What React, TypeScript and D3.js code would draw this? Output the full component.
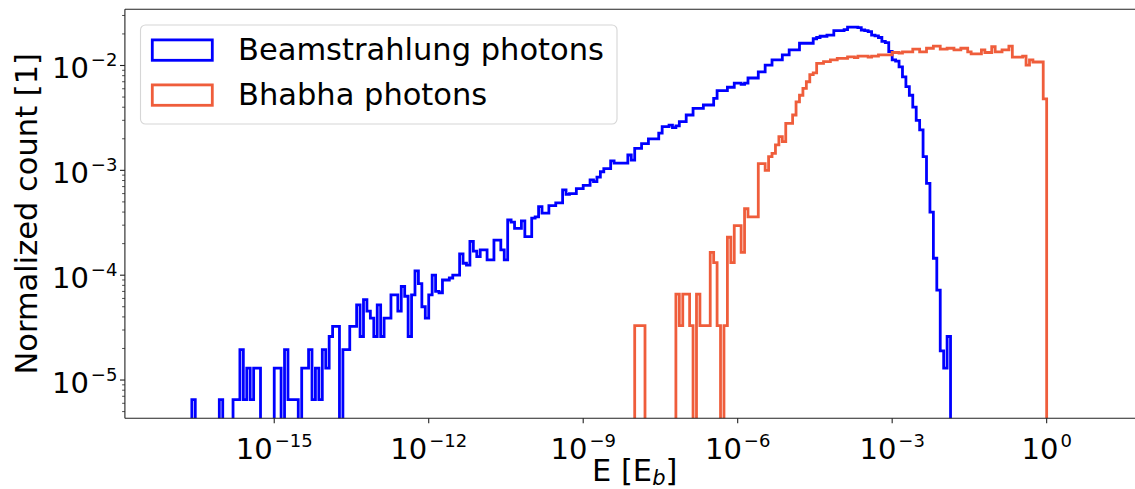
import React from 'react';
import * as d3 from 'd3';

// Histogram binning: log-spaced bins, 15 per decade, from 1e-17 to 1e1
const EDGE_LOG_MIN = -17;
const BINS_PER_DECADE = 15;
const N_BINS = 270;
const binEdges: number[] = d3.range(0, N_BINS + 1).map((i) => Math.pow(10, EDGE_LOG_MIN + i / BINS_PER_DECADE));

// Beamstrahlung photons, normalized count per bin (bins 0..226)
const beamstrahlungStartBin = 0;
const beamstrahlung: number[] = [
  0, 0, 0, 0, 0, 0,
  6.5e-6,
  0, 0, 0, 0, 0, 0, 0,
  6.5e-6,
  0, 0, 0,
  6.5e-6, 6.5e-6, 1.95e-5, 6.5e-6, 1.3e-5, 6.5e-6, 1.3e-5, 1.3e-5,
  0, 0, 0, 0,
  1.3e-5, 1.3e-5, 0, 1.95e-5, 6.5e-6, 6.5e-6, 6.5e-6, 0, 1.3e-5, 1.3e-5,
  1.95e-5, 6.5e-6, 1.3e-5, 6.5e-6, 1.95e-5, 1.3e-5, 2.6e-5, 3.25e-5, 3.25e-5, 0,
  1.95e-5, 1.95e-5, 3.25e-5, 3.25e-5, 5.2e-5, 2.6e-5, 5.85e-5, 4.55e-5, 3.9e-5, 2.6e-5,
  5.2e-5, 2.6e-5, 3.9e-5, 3.9e-5, 6.5e-5, 6.5e-5, 4.55e-5,
  7.8e-5, 6.3e-5, 2.6e-5, 6.5e-5, 1.1e-4, 8.3e-5, 5.0e-5, 3.9e-5, 6.5e-5, 1.0e-4, 7.0e-5, 6.8e-5, 9.0e-5,
  9.0e-5, 9.4e-5, 1.0e-4, 1.0e-4, 1.6e-4, 1.3e-4, 1.25e-4, 2.1e-4, 1.7e-4, 1.5e-4,
  1.74e-4, 1.74e-4, 1.4e-4, 1.4e-4, 2.16e-4, 2.16e-4, 1.74e-4, 1.4e-4, 3.36e-4, 3.2e-4,
  2.8e-4, 2.8e-4, 3.3e-4, 2.33e-4, 2.33e-4, 3.5e-4, 3.6e-4, 4.5e-4, 3.9e-4, 3.9e-4,
  4.6e-4, 4.6e-4, 4.9e-4, 4.9e-4, 6.5e-4, 5.9e-4, 6.0e-4, 6.0e-4, 6.7e-4, 6.7e-4,
  7.2e-4, 7.2e-4, 8.1e-4, 7.8e-4, 8.6e-4, 9.7e-4, 1.04e-3, 1.04e-3, 1.23e-3, 1.17e-3,
  1.17e-3, 1.17e-3, 1.17e-3, 1.4e-3, 1.25e-3, 1.62e-3, 1.62e-3, 1.8e-3, 1.8e-3, 2.0e-3,
  2.0e-3, 2.0e-3, 2.26e-3, 2.61e-3, 2.61e-3, 2.7e-3, 2.55e-3, 2.65e-3, 2.92e-3, 2.92e-3,
  3.37e-3, 3.37e-3, 3.9e-3, 3.9e-3, 3.9e-3, 4.2e-3, 4.2e-3, 4.2e-3, 4.86e-3, 5.75e-3,
  5.75e-3, 5.75e-3, 6.2e-3, 6.2e-3, 6.8e-3, 6.8e-3, 6.6e-3, 6.8e-3, 7.6e-3, 7.6e-3,
  7.6e-3, 8.7e-3, 8.7e-3, 1.01e-2, 1.01e-2, 1.13e-2, 1.13e-2, 1.13e-2, 1.26e-2, 1.26e-2,
  1.41e-2, 1.41e-2, 1.41e-2, 1.63e-2, 1.63e-2, 1.63e-2, 1.63e-2, 1.8e-2, 1.85e-2, 1.9e-2,
  1.9e-2, 1.95e-2, 1.95e-2, 2.15e-2, 2.15e-2, 2.15e-2, 2.2e-2, 2.32e-2, 2.32e-2, 2.32e-2,
  2.3e-2, 2.18e-2, 2.15e-2, 2.1e-2, 1.95e-2, 1.92e-2, 1.85e-2, 1.7e-2, 1.65e-2, 1.36e-2,
  1.13e-2, 1.1e-2, 9.7e-3, 7.8e-3, 6.3e-3, 5.2e-3, 4.0e-3, 3.0e-3, 2.43e-3, 1.35e-3,
  7.5e-4, 4.0e-4, 1.45e-4, 7.2e-5, 1.9e-5, 1.3e-5, 2.6e-5,
];

// Bhabha photons, normalized count per bin (bins 135..254)
const bhabhaStartBin = 135;
const bhabha: number[] = [
  3.3e-5, 3.3e-5, 3.3e-5,
  0, 0, 0, 0, 0, 0, 0, 0, 0,
  6.6e-5, 3.3e-5, 6.6e-5, 6.6e-5, 3.3e-5, 0, 6.6e-5, 3.3e-5, 3.3e-5, 3.3e-5,
  1.65e-4, 1.32e-4, 3.3e-5, 0, 3.3e-5, 2.3e-4, 1.32e-4, 2.97e-4, 2.97e-4, 1.65e-4,
  4.3e-4, 3.6e-4, 3.6e-4, 3.6e-4, 1.16e-3, 1.16e-3, 1.0e-3, 1.35e-3, 1.45e-3, 1.75e-3,
  2.1e-3, 1.88e-3, 2.8e-3, 2.8e-3, 3.37e-3, 4.5e-3, 5.2e-3, 6.05e-3, 7.0e-3, 8.2e-3,
  8.5e-3, 1.05e-2, 1.05e-2, 1.09e-2, 1.09e-2, 1.13e-2, 1.13e-2, 1.17e-2, 1.17e-2, 1.17e-2,
  1.21e-2, 1.21e-2, 1.19e-2, 1.23e-2, 1.23e-2, 1.23e-2, 1.2e-2, 1.23e-2, 1.23e-2, 1.26e-2,
  1.26e-2, 1.26e-2, 1.26e-2, 1.33e-2, 1.33e-2, 1.31e-2, 1.35e-2, 1.35e-2, 1.35e-2, 1.43e-2,
  1.43e-2, 1.35e-2, 1.35e-2, 1.46e-2, 1.46e-2, 1.53e-2, 1.53e-2, 1.43e-2, 1.43e-2, 1.46e-2,
  1.46e-2, 1.41e-2, 1.41e-2, 1.46e-2, 1.46e-2, 1.35e-2, 1.29e-2, 1.29e-2, 1.29e-2, 1.41e-2,
  1.33e-2, 1.33e-2, 1.51e-2, 1.35e-2, 1.35e-2, 1.41e-2, 1.41e-2, 1.53e-2, 1.2e-2, 1.2e-2,
  1.2e-2, 1.23e-2, 1.01e-2, 1.13e-2, 1.08e-2, 1.08e-2, 1.08e-2, 4.8e-3,
];

const seriesNames = ['Beamstrahlung photons', 'Bhabha photons'];
const seriesColors = ['#0000ff', '#ef5d3b'];

const xTickValues = [1e-15, 1e-12, 1e-9, 1e-6, 1e-3, 1];
const xTickExponents = ['\u221215', '\u221212', '\u22129', '\u22126', '\u22123', '0'];
const yTickValues = [1e-5, 1e-4, 1e-3, 1e-2];
const yTickExponents = ['\u22125', '\u22124', '\u22123', '\u22122'];

const FONT = 'DejaVu Sans';

function stepPath(
  values: number[],
  startBin: number,
  x: d3.ScaleLogarithmic<number, number>,
  y: d3.ScaleLogarithmic<number, number>,
  yBelow: number
): string {
  const pts: [number, number][] = [];
  pts.push([x(binEdges[startBin]), yBelow]);
  values.forEach((v, i) => {
    const yy = v > 0 ? y(v) : yBelow;
    pts.push([x(binEdges[startBin + i]), yy]);
    pts.push([x(binEdges[startBin + i + 1]), yy]);
  });
  pts.push([x(binEdges[startBin + values.length]), yBelow]);
  return d3.line()(pts) || '';
}

export default function App() {
  const W = 1135;
  const H = 489;
  const left = 124.9;
  const right = 1144.5;
  const top = 9.3;
  const bottom = 418.3;

  const x = d3.scaleLog().domain([Math.pow(10, -17.9), Math.pow(10, 1.9)]).range([left, right]);
  const y = d3.scaleLog().domain([Math.pow(10, -5.365), Math.pow(10, -1.464)]).range([bottom, top]);
  const yBelow = bottom + 60;

  const bluePath = stepPath(beamstrahlung, beamstrahlungStartBin, x, y, yBelow);
  const orangePath = stepPath(bhabha, bhabhaStartBin, x, y, yBelow);

  const [yMin, yMax] = y.domain();
  const minorY: number[] = [];
  for (let e = -6; e <= -1; e++) {
    for (let m = 2; m <= 9; m++) {
      const v = m * Math.pow(10, e);
      if (v >= yMin && v <= yMax) minorY.push(v);
    }
  }

  const tickFont = 29;
  const supFont = 18;
  const labelFont = 30.5;

  return (
    <svg
      width={W}
      height={H}
      style={{ position: 'absolute', left: 0, top: 0, background: '#ffffff', display: 'block' }}
      fontFamily={FONT}
    >
      <defs>
        <clipPath id="plotClip">
          <rect x={left} y={top} width={right - left} height={bottom - top} />
        </clipPath>
      </defs>
      <rect x={0} y={0} width={W} height={H} fill="#ffffff" />

      <g clipPath="url(#plotClip)">
        <path d={bluePath} fill="none" stroke={seriesColors[0]} strokeWidth={2.8} strokeLinejoin="miter" />
        <path d={orangePath} fill="none" stroke={seriesColors[1]} strokeWidth={2.8} strokeLinejoin="miter" />
      </g>

      {/* spines (right spine lies outside the visible canvas) */}
      <g stroke="#222" strokeWidth={1.1} fill="none">
        <line x1={left} y1={top} x2={left} y2={bottom} />
        <line x1={left} y1={bottom} x2={right} y2={bottom} />
        <line x1={left} y1={top} x2={right} y2={top} />
      </g>

      {/* x ticks */}
      {xTickValues.map((v, i) => (
        <g key={'xt' + i}>
          <line x1={x(v)} x2={x(v)} y1={bottom} y2={bottom + 4.9} stroke="#222" strokeWidth={1.1} />
          <text x={x(v)} y={bottom + 40.2} textAnchor="middle" fontSize={tickFont} fill="#000">
            10
            <tspan dx={2} dy={-11.6} fontSize={supFont}>
              {xTickExponents[i]}
            </tspan>
          </text>
        </g>
      ))}

      {/* y ticks */}
      {yTickValues.map((v, i) => (
        <g key={'yt' + i}>
          <line x1={left - 4.9} x2={left} y1={y(v)} y2={y(v)} stroke="#222" strokeWidth={1.1} />
          <text x={left - 7.5} y={y(v) + 12.5} textAnchor="end" fontSize={tickFont} fill="#000">
            10
            <tspan dx={2} dy={-11.6} fontSize={supFont}>
              {yTickExponents[i]}
            </tspan>
          </text>
        </g>
      ))}
      {minorY.map((v, i) => (
        <line key={'ym' + i} x1={left - 2.8} x2={left} y1={y(v)} y2={y(v)} stroke="#222" strokeWidth={0.8} />
      ))}

      {/* axis labels */}
      <text x={(left + right) / 2} y={481} textAnchor="middle" fontSize={labelFont} fill="#000">
        E [E
        <tspan dy={4} fontSize={21} fontStyle="italic">
          b
        </tspan>
        <tspan dy={-4}>]</tspan>
      </text>
      <text
        transform={`translate(37, ${(top + bottom) / 2}) rotate(-90)`}
        textAnchor="middle"
        fontSize={labelFont}
        fill="#000"
      >
        Normalized count [1]
      </text>

      {/* legend */}
      <g>
        <rect x={140.5} y={25} width={476.5} height={99} rx={5} ry={5} fill="#ffffff" fillOpacity={0.8} stroke="#d6d6d6" strokeWidth={1.1} />
        {seriesNames.map((name, i) => (
          <g key={'lg' + i}>
            <rect
              x={152.3}
              y={39.9 + i * 45}
              width={60}
              height={20.4}
              fill="none"
              stroke={seriesColors[i]}
              strokeWidth={2.8}
            />
            <text x={238} y={60 + i * 45} fontSize={labelFont} fill="#000">
              {name}
            </text>
          </g>
        ))}
      </g>
    </svg>
  );
}
